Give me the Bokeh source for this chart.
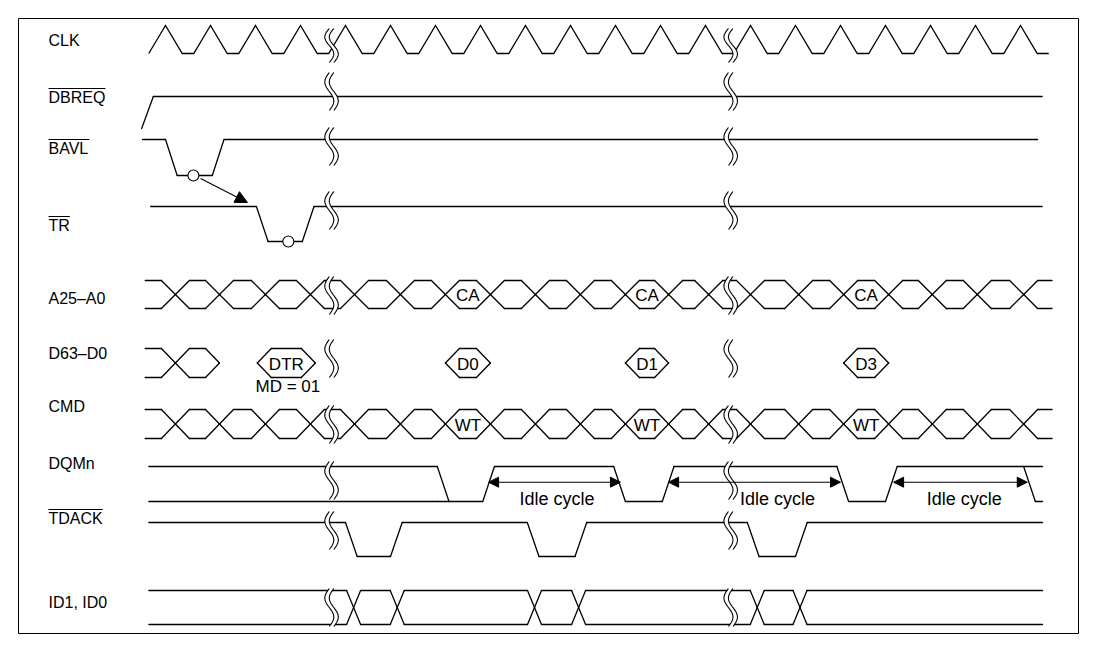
import math
from bokeh.plotting import figure
from bokeh.models import Range1d, Arrow, NormalHead
from bokeh.core.properties import value
from bokeh.embed import file_html
from bokeh.resources import INLINE

# ---------------- data (time axis in clock cycles) ----------------
signal_labels = ["CLK", "DBREQ", "BAVL", "TR", "A25–A0", "D63–D0", "CMD", "DQMn", "TDACK", "ID1, ID0"]
signal_overlined = [False, True, True, True, False, False, False, False, True, False]

clk_low_centres = [0, 1, 2, 3, 4, 5, 6, 7, 8, 9, 10, 11, 12, 13, 14, 15, 16, 17, 18, 19]
clk_span = [-0.872, 19.128]

dbreq_init = 0
dbreq_edges = [(-1.03, 1)]
dbreq_span = [-1.03, 18.98]

bavl_init = 1
bavl_edges = [(-0.50, 0), (0.54, 1)]
bavl_span = [-1.01, 18.88]

tr_init = 1
tr_edges = [(1.52, 0), (2.54, 1)]
tr_span = [-0.83, 18.98]

a25_cross = [-0.28, 0.70, 1.72, 2.72, 3.70, 4.72, 5.72, 6.72, 7.72, 8.72, 9.72, 10.68,
             11.57, 12.50, 13.57, 14.57, 15.57, 16.54, 17.54, 18.57]
a25_span = [-0.95, 19.2]
a25_named_start = [5.72, 9.72, 14.57]
a25_names = ["CA", "CA", "CA"]

d63_seg_start = [-0.95, -0.28, 1.54, 5.72, 9.72, 14.57]
d63_seg_end = [-0.28, 0.70, 2.83, 6.72, 10.68, 15.57]
d63_seg_text = ["", "", "DTR", "D0", "D1", "D3"]
md_note = "MD = 01"
md_note_t = 2.22

cmd_cross = a25_cross
cmd_span = [-0.95, 19.2]
cmd_named_start = [5.72, 9.72, 14.57]
cmd_names = ["WT", "WT", "WT"]

dqmn_init = "X"
dqmn_edges = [(5.54, 0), (6.55, 1), (9.46, 0), (10.54, 1), (14.42, 0), (15.5, 1), (18.57, "X")]
dqmn_span = [-0.87, 18.99]
idle_from = [6.68, 10.68, 15.68]
idle_to = [9.61, 14.50, 18.65]
idle_text = ["Idle cycle", "Idle cycle", "Idle cycle"]
idle_text_t = [8.20, 13.10, 17.25]

tdack_init = 1
tdack_edges = [(3.50, 0), (4.50, 1), (7.54, 0), (8.60, 1), (12.43, 0), (13.50, 1)]
tdack_span = [-0.87, 18.99]

id_cross = [3.68, 4.65, 7.70, 8.68, 12.65, 13.60]
id_span = [-0.87, 18.99]

break_t = [3.19, 12.06]
bavl_mark_t = 0.12
tr_mark_t = 2.23
cause_from_t = 0.28
cause_to_t = 1.32

# ---------------- layout (page pixels) ----------------
W, H_PAGE = 1097, 645
X0, PER = 187.5, 45.0          # page x of t=0, pixels per cycle
def px(dx):
    return dx / PER
def t_of(xpage):
    return (xpage - X0) / PER

rows = {  # top, bottom
    "CLK": (25, 53), "DBREQ": (96, 128), "BAVL": (139, 175), "TR": (206, 241),
    "A25": (280, 308), "D63": (348, 377), "CMD": (409, 438), "DQMn": (466, 501),
    "TDACK": (522, 556), "ID": (590, 624),
}
label_y = [40, 97, 148, 225, 298, 353, 406, 463, 518, 602]
break_centre = {"CLK": 45, "DBREQ": 91, "BAVL": 146, "TR": 210, "A25": 295, "D63": 358,
                "CMD": 424, "DQMn": 480, "TDACK": 530, "ID": 607}
break_height = {"CLK": 34}
EDGE = px(11.7)
WBUS = px(14)
WID = px(7)
FONT = value("Liberation Sans")
FS_LAB = 16
FS_HEX = "17px"
FS_IDLE = "18px"
LW = 1.3

p = figure(width=W, height=H_PAGE, x_range=Range1d(t_of(0), t_of(W)),
           y_range=Range1d(H_PAGE, 0), output_backend="svg", toolbar_location=None,
           min_border=0, x_axis_location=None, y_axis_location=None)
p.grid.visible = False
p.outline_line_color = None
p.background_fill_color = "white"

segs = []

def level_segments(init, edges, span, top, bot):
    yv = {1: [top], 0: [bot], "X": [top, bot]}
    state, t = init, span[0]
    for te, new in edges:
        for y in yv[state]:
            if te > t:
                segs.append((t, y, te, y))
        old, nw = set(yv[state]), set(yv[new])
        for y in old & nw:
            segs.append((te, y, te + EDGE, y))
        for y in old - nw:
            tgt = next(iter(nw - old)) if nw - old else next(iter(nw))
            segs.append((te, y, te + EDGE, tgt))
        if not (old - nw):
            for y in nw - old:
                segs.append((te, next(iter(old)), te + EDGE, y))
        state, t = new, te + EDGE
    for y in yv[state]:
        segs.append((t, y, span[1], y))

def hex_segments(starts, ends, top, bot, w, open_first=False, open_last=False):
    mid = (top + bot) / 2
    n = len(starts)
    for i, (s, e) in enumerate(zip(starts, ends)):
        lo = open_first and i == 0
        ro = open_last and i == n - 1
        xl = s if lo else s + w
        xr = e if ro else e - w
        segs.append((xl, top, xr, top))
        segs.append((xl, bot, xr, bot))
        if not lo:
            segs.append((s, mid, s + w, top)); segs.append((s, mid, s + w, bot))
        if not ro:
            segs.append((e - w, top, e, mid)); segs.append((e - w, bot, e, mid))

# CLK
ct, cb = rows["CLK"]
cx, cy = [clk_span[0]], [cb]
for k in clk_low_centres:
    cx += [k - 0.5, k - 0.128, k + 0.128]
    cy += [ct, cb, cb]
cx[-1] = clk_span[1]
p.line(cx, cy, line_color="black", line_width=LW, line_join="miter")

level_segments(dbreq_init, dbreq_edges, dbreq_span, *rows["DBREQ"])
level_segments(bavl_init, bavl_edges, bavl_span, *rows["BAVL"])
level_segments(tr_init, tr_edges, tr_span, *rows["TR"])
level_segments(dqmn_init, dqmn_edges, dqmn_span, *rows["DQMn"])
level_segments(tdack_init, tdack_edges, tdack_span, *rows["TDACK"])

b = [a25_span[0]] + a25_cross + [a25_span[1]]
hex_segments(b[:-1], b[1:], *rows["A25"], WBUS, True, True)
b = [cmd_span[0]] + cmd_cross + [cmd_span[1]]
hex_segments(b[:-1], b[1:], *rows["CMD"], WBUS, True, True)
b = [id_span[0]] + id_cross + [id_span[1]]
hex_segments(b[:-1], b[1:], *rows["ID"], WID, True, True)
hex_segments(d63_seg_start, d63_seg_end, *rows["D63"], WBUS, True, False)

p.segment([s[0] for s in segs], [s[1] for s in segs], [s[2] for s in segs], [s[3] for s in segs],
          line_color="black", line_width=LW, line_cap="round")

# break marks
A, GAP = 4.5, 4.5
for name, yc in break_centre.items():
    H = break_height.get(name, 38)
    for tb in break_t:
        xb = X0 + tb * PER
        n = 40
        ys = [yc - H / 2 + H * i / n for i in range(n + 1)]
        off = [-A * math.sin(2 * math.pi * i / n) for i in range(n + 1)]
        xl = [t_of(xb - GAP / 2 + o) for o in off]
        xr = [t_of(xb + GAP / 2 + o) for o in off]
        p.patch(xl + xr[::-1], ys + ys[::-1], fill_color="white", line_color=None)
        p.line(xl, ys, line_color="black", line_width=1.1)
        p.line(xr, ys, line_color="black", line_width=1.1)

# markers and causal arrow
p.scatter([bavl_mark_t, tr_mark_t], [rows["BAVL"][1], rows["TR"][1]], size=11,
          fill_color="white", line_color="black", line_width=1.1)
p.add_layout(Arrow(end=NormalHead(size=12, fill_color="black", line_color="black"),
                   x_start=cause_from_t, y_start=rows["BAVL"][1] + 3,
                   x_end=cause_to_t, y_end=rows["TR"][0] - 4,
                   line_color="black", line_width=1.1))

# idle cycle arrows
ya = 481.7
for a, bb in zip(idle_from, idle_to):
    p.add_layout(Arrow(start=NormalHead(size=10, fill_color="black", line_color="black"),
                       end=NormalHead(size=10, fill_color="black", line_color="black"),
                       x_start=a, y_start=ya, x_end=bb, y_end=ya,
                       line_color="black", line_width=1.1))
p.text(idle_text_t, [498] * 3, text=idle_text, text_font=FONT, text_font_size=FS_IDLE,
       text_align="center", text_baseline="middle", text_color="black")

# hex labels
am = (rows["A25"][0] + rows["A25"][1]) / 2
ends = {s: e for s, e in zip(a25_cross[:-1], a25_cross[1:])}
p.text([(s + ends[s]) / 2 for s in a25_named_start], [am + 1] * 3, text=a25_names,
       text_font=FONT, text_font_size=FS_HEX, text_align="center", text_baseline="middle")
cm = (rows["CMD"][0] + rows["CMD"][1]) / 2
ends = {s: e for s, e in zip(cmd_cross[:-1], cmd_cross[1:])}
p.text([(s + ends[s]) / 2 for s in cmd_named_start], [cm + 1] * 3, text=cmd_names,
       text_font=FONT, text_font_size=FS_HEX, text_align="center", text_baseline="middle")
dm = (rows["D63"][0] + rows["D63"][1]) / 2
dx = [(s + e) / 2 for s, e, t in zip(d63_seg_start, d63_seg_end, d63_seg_text) if t]
dt = [t for t in d63_seg_text if t]
p.text(dx, [dm + 1] * len(dx), text=dt, text_font=FONT, text_font_size=FS_HEX,
       text_align="center", text_baseline="middle")
p.text([md_note_t], [386], text=[md_note], text_font=FONT, text_font_size=FS_HEX,
       text_align="center", text_baseline="middle")

# signal labels
LX = t_of(48)
p.text([LX] * len(signal_labels), label_y, text=signal_labels, text_font=FONT,
       text_font_size=f"{FS_LAB}px", text_align="left", text_baseline="middle")
wid = {"D": .722, "B": .667, "R": .722, "E": .667, "Q": .778, "A": .667, "V": .667,
       "L": .556, "T": .611, "C": .722, "K": .667}
for lab, ov, y in zip(signal_labels, signal_overlined, label_y):
    if ov:
        wpx = sum(wid.get(c, .6) for c in lab) * FS_LAB
        p.line([LX, t_of(48 + wpx)], [y - 9, y - 9], line_color="black", line_width=1)

# frame
fx = [t_of(18), t_of(1078), t_of(1078), t_of(18), t_of(18)]
fy = [18, 18, 633, 633, 18]
p.line(fx, fy, line_color="black", line_width=1)

open("out.html", "w").write(file_html(p, INLINE))
